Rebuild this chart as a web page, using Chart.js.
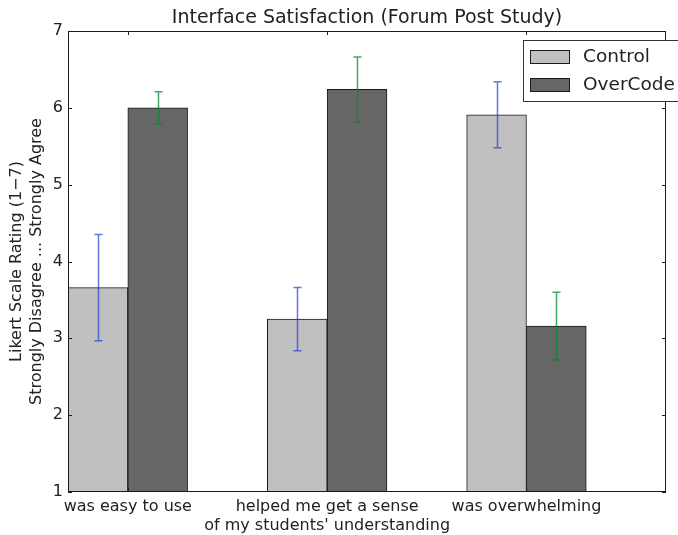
<!DOCTYPE html>
<html>
<head>
<meta charset="utf-8">
<script src="https://cdn.jsdelivr.net/npm/chart.js@4.4.1/dist/chart.umd.min.js"></script>
<style>
  html, body { margin: 0; padding: 0; background: #fff; }
  #wrap { width: 678px; height: 535px; }
</style>
</head>
<body>
<div id="wrap"><canvas id="chart"></canvas></div>
<script>
// data
const categories = [
  ["was easy to use"],
  ["helped me get a sense", "of my students' understanding"],
  ["was overwhelming"],
];
const seriesNames = ["Control", "OverCode"];
const controlMeans = [3.66, 3.25, 5.91];
const controlErr = [0.69, 0.41, 0.43];
const overcodeMeans = [6.0, 6.24, 3.16];
const overcodeErr = [0.21, 0.42, 0.44];
const yTicks = [1, 2, 3, 4, 5, 6, 7];

const BAR_W = 0.3;
const FONT = "'DejaVu Sans', sans-serif";
const TEXT = "#222";
const FRAME = "#1a1a1a";
const EDGE = "#1a1a1a";

const styles = [
  { fill: "#c0c0c0", err: "rgba(35,60,210,0.7)" },
  { fill: "#666666", err: "rgba(0,140,40,0.75)" },
];

function points(means, slot) {
  return means.map((v, i) => ({ x: i + BAR_W * slot + BAR_W / 2, y: v }));
}

const errs = [controlErr, overcodeErr];

const frameAndExtras = {
  id: "frameAndExtras",
  afterDatasetsDraw(chart) {
    const { ctx, chartArea: a, scales } = chart;
    const xs = scales.x, ys = scales.y;

    // error bars
    chart.data.datasets.forEach((ds, di) => {
      ctx.save();
      ctx.strokeStyle = styles[di].err;
      ctx.lineWidth = 1.5;
      ds.data.forEach((p, j) => {
        const e = errs[di][j];
        const px = Math.round(xs.getPixelForValue(p.x)) + 0.5;
        const hi = ys.getPixelForValue(p.y + e);
        const lo = ys.getPixelForValue(p.y - e);
        ctx.beginPath();
        ctx.moveTo(px, hi); ctx.lineTo(px, lo);
        ctx.moveTo(px - 4, hi); ctx.lineTo(px + 4, hi);
        ctx.moveTo(px - 4, lo); ctx.lineTo(px + 4, lo);
        ctx.stroke();
      });
      ctx.restore();
    });

    // frame + inward ticks
    ctx.save();
    ctx.strokeStyle = FRAME;
    ctx.lineWidth = 1;
    ctx.strokeRect(a.left + 0.5, a.top + 0.5, a.right - a.left - 1, a.bottom - a.top - 1);
    ctx.beginPath();
    yTicks.forEach((t) => {
      const py = Math.round(ys.getPixelForValue(t)) + 0.5;
      ctx.moveTo(a.left, py); ctx.lineTo(a.left + 4, py);
      ctx.moveTo(a.right, py); ctx.lineTo(a.right - 4, py);
    });
    categories.forEach((c, i) => {
      const px = Math.round(xs.getPixelForValue(i + BAR_W)) + 0.5;
      ctx.moveTo(px, a.top); ctx.lineTo(px, a.top + 4);
      ctx.moveTo(px, a.bottom); ctx.lineTo(px, a.bottom - 4);
    });
    ctx.stroke();
    ctx.restore();
  },
  afterDraw(chart) {
    const { ctx, chartArea: a } = chart;
    ctx.save();
    // title
    ctx.fillStyle = TEXT;
    ctx.font = "19px " + FONT;
    ctx.textAlign = "center";
    ctx.textBaseline = "middle";
    ctx.fillText("Interface Satisfaction (Forum Post Study)", (a.left + a.right) / 2, 18);

    // legend (overflows the right edge like the original)
    ctx.fillStyle = "#fff";
    ctx.strokeStyle = "#333";
    ctx.lineWidth = 1;
    ctx.fillRect(523.5, 40.5, 200, 61);
    ctx.strokeRect(523.5, 40.5, 200, 61);
    const rows = [57, 85];
    seriesNames.forEach((name, i) => {
      ctx.fillStyle = styles[i].fill;
      ctx.fillRect(530.5, rows[i] - 6.5, 39, 13);
      ctx.strokeStyle = EDGE;
      ctx.strokeRect(530.5, rows[i] - 6.5, 39, 13);
      ctx.fillStyle = TEXT;
      ctx.font = "18.5px " + FONT;
      ctx.textAlign = "left";
      ctx.textBaseline = "middle";
      ctx.fillText(name, 583, rows[i]);
    });
    ctx.restore();
  },
};

new Chart(document.getElementById("chart"), {
  type: "bar",
  data: {
    datasets: [
      {
        label: seriesNames[0],
        data: points(controlMeans, 0),
        backgroundColor: styles[0].fill,
        borderColor: EDGE,
        borderWidth: 1,
      },
      {
        label: seriesNames[1],
        data: points(overcodeMeans, 1),
        backgroundColor: styles[1].fill,
        borderColor: EDGE,
        borderWidth: 1,
      },
    ],
  },
  options: {
    responsive: true,
    maintainAspectRatio: false,
    animation: false,
    grouped: false,
    barPercentage: 1,
    categoryPercentage: 1,
    layout: { padding: { top: 31, right: 12, left: 0, bottom: 0 } },
    plugins: {
      legend: { display: false },
      title: { display: false },
      tooltip: { enabled: false },
    },
    scales: {
      x: {
        type: "linear",
        min: 0,
        max: 3,
        offset: false,
        grid: { display: false, drawTicks: false },
        border: { display: false },
        afterBuildTicks: (s) => {
          s.ticks = categories.map((c, i) => ({ value: i + BAR_W }));
        },
        afterFit: (s) => { s.height = 43; },
        ticks: {
          autoSkip: false,
          maxRotation: 0,
          padding: 5,
          color: TEXT,
          font: { family: FONT, size: 16, lineHeight: 1.22 },
          callback: (v, i) => categories[i],
        },
      },
      y: {
        min: 1,
        max: 7,
        beginAtZero: false,
        grid: { display: false, drawTicks: false },
        border: { display: false },
        afterFit: (s) => { s.width = 68; },
        ticks: {
          stepSize: 1,
          padding: 5,
          color: TEXT,
          font: { family: FONT, size: 16 },
        },
        title: {
          display: true,
          text: ["Likert Scale Rating (1\u22127)", "Strongly Disagree ... Strongly Agree"],
          color: TEXT,
          padding: { top: 6, bottom: 0 },
          font: { family: FONT, size: 16, lineHeight: 1.3 },
        },
      },
    },
  },
  plugins: [frameAndExtras],
});
</script>
</body>
</html>
